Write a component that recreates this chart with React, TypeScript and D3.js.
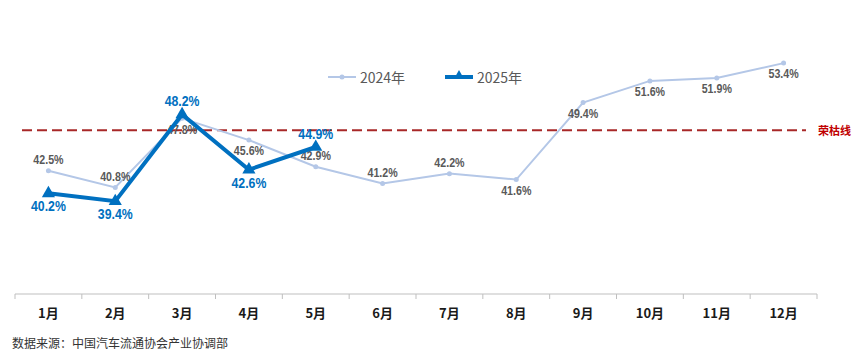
import React from "react";
import * as d3 from "d3";

const months = ["1月", "2月", "3月", "4月", "5月", "6月", "7月", "8月", "9月", "10月", "11月", "12月"];
const values2024 = [42.5, 40.8, 47.8, 45.6, 42.9, 41.2, 42.2, 41.6, 49.4, 51.6, 51.9, 53.4];
const values2025 = [40.2, 39.4, 48.2, 42.6, 44.9];
// label placement: 1 = above, -1 = below
const pos2024 = [1, 1, -1, -1, 1, 1, 1, -1, -1, -1, -1, -1];
const pos2025 = [-1, -1, 1, -1, 1];
const thresholdValue = 46.6;
const thresholdLabel = "荣枯线";
const seriesNames = ["2024年", "2025年"];
const sourceText = "数据来源：中国汽车流通协会产业协调部";

const W = 865;
const H = 355;

export default function App() {
  const x = d3.scaleBand<string>().domain(months).range([15, 817]).padding(0);
  const y = d3.scaleLinear().domain([30, 60]).range([294, -2]);
  const cx = (m: string) => (x(m) as number) + x.bandwidth() / 2;

  const line = d3
    .line<number>()
    .x((_, i) => cx(months[i]))
    .y((v) => y(v));

  const tri = d3.symbol().type(d3.symbolTriangle).size(75)();
  const triLegend = d3.symbol().type(d3.symbolTriangle).size(45)();

  const ticks = d3.range(months.length + 1).map((i) => 15 + i * x.bandwidth());
  const labelFont = "'Liberation Sans', Arial, sans-serif";
  const cjk = "'Noto Sans CJK SC', 'Noto Sans', sans-serif";

  const narrowLabel = (key: string, lx: number, ly: number, txt: string, size: number, color: string) => (
    <g key={key} transform={`translate(${lx},${ly}) scale(0.82,1)`}>
      <text
        x={0}
        y={0}
        textAnchor="middle"
        dominantBaseline="central"
        fontFamily={labelFont}
        fontWeight="bold"
        fontSize={size}
        fill={color}
      >
        {txt}
      </text>
    </g>
  );

  return (
    <svg
      width={W}
      height={H}
      viewBox={`0 0 ${W} ${H}`}
      style={{ position: "absolute", left: 0, top: 0, background: "#fff" }}
    >
      {/* axis */}
      <line x1={15} x2={817} y1={294} y2={294} stroke="#BFBFBF" strokeWidth={1} />
      {ticks.map((t, i) => (
        <line key={i} x1={t} x2={t} y1={294} y2={299} stroke="#BFBFBF" strokeWidth={1} />
      ))}
      {months.map((m) => (
        <text
          key={m}
          x={cx(m)}
          y={312}
          textAnchor="middle"
          dominantBaseline="central"
          fontFamily={cjk}
          fontWeight="bold"
          fontSize={13}
          fill="#1a1a1a"
        >
          {m}
        </text>
      ))}

      {/* threshold */}
      <line
        x1={22}
        x2={806}
        y1={y(thresholdValue)}
        y2={y(thresholdValue)}
        stroke="#A82828"
        strokeWidth={2}
        strokeDasharray="10 5"
      />
      <text
        x={818}
        y={y(thresholdValue)}
        dominantBaseline="central"
        fontFamily={cjk}
        fontWeight="bold"
        fontSize={11}
        fill="#C00000"
      >
        {thresholdLabel}
      </text>

      {/* 2024 */}
      <path d={line(values2024) || ""} fill="none" stroke="#B4C7E7" strokeWidth={2} />
      {values2024.map((v, i) => (
        <circle key={i} cx={cx(months[i])} cy={y(v)} r={2.5} fill="#B4C7E7" />
      ))}
      {values2024.map((v, i) =>
        narrowLabel("a" + i, cx(months[i]), y(v) - pos2024[i] * 11, `${v.toFixed(1)}%`, 13, "#595959")
      )}

      {/* 2025 */}
      <path d={line(values2025) || ""} fill="none" stroke="#0070C0" strokeWidth={4} strokeLinejoin="miter" />
      {values2025.map((v, i) => (
        <path key={i} d={tri || ""} transform={`translate(${cx(months[i])},${y(v)})`} fill="#0070C0" />
      ))}
      {values2025.map((v, i) =>
        narrowLabel("b" + i, cx(months[i]), y(v) - pos2025[i] * 13, `${v.toFixed(1)}%`, 15, "#0070C0")
      )}

      {/* legend */}
      <line x1={328} x2={356} y1={77} y2={77} stroke="#B4C7E7" strokeWidth={2} />
      <circle cx={342} cy={77} r={2.5} fill="#B4C7E7" />
      <text x={360} y={77} dominantBaseline="central" fontFamily={cjk} fontSize={14} fill="#595959">
        {seriesNames[0]}
      </text>
      <line x1={445} x2={473} y1={77} y2={77} stroke="#0070C0" strokeWidth={4} />
      <path d={triLegend || ""} transform="translate(459,76)" fill="#0070C0" />
      <text x={477} y={77} dominantBaseline="central" fontFamily={cjk} fontSize={14} fill="#595959">
        {seriesNames[1]}
      </text>

      {/* source */}
      <text x={12} y={342} dominantBaseline="central" fontFamily={cjk} fontSize={12} fill="#333">
        {sourceText}
      </text>
    </svg>
  );
}
